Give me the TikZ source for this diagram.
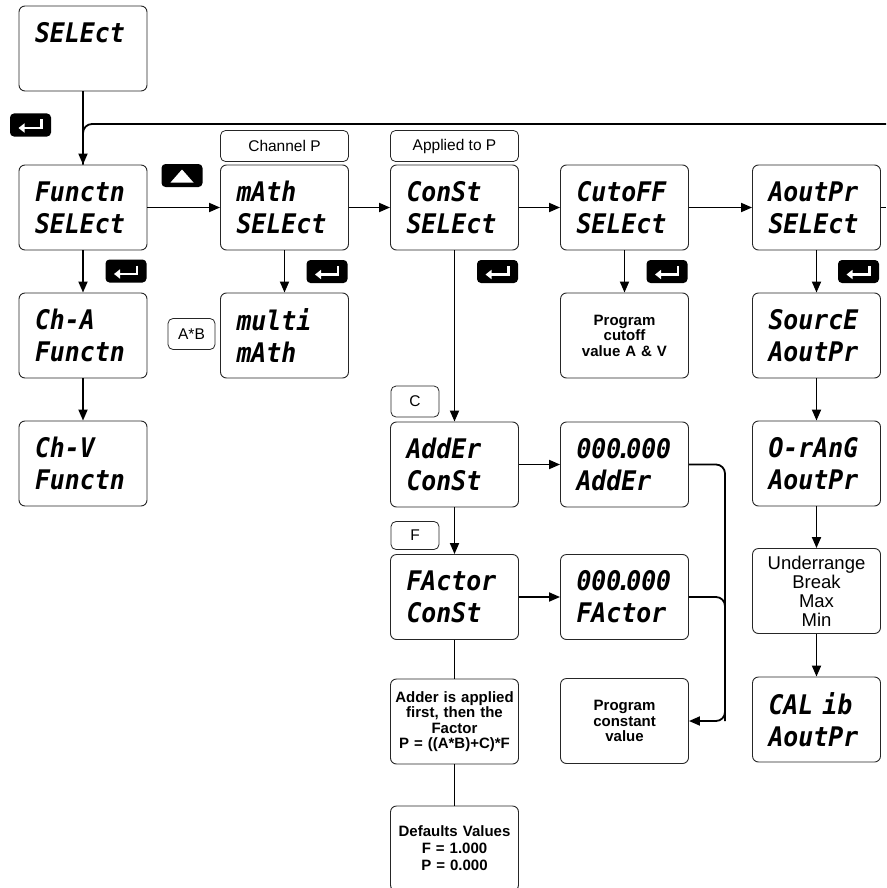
\documentclass[tikz,border=0pt]{standalone}
\usepackage{fontspec}
\setmainfont{Liberation Sans}
\newfontfamily\dispfont[FakeStretch=0.92]{DejaVu Sans Mono}
\usetikzlibrary{arrows.meta}
\tikzset{
  box/.style={draw=black!85, line width=0.9pt, rounded corners=6pt, minimum width=128pt, minimum height=85pt, inner sep=0pt, align=center},
  disp/.style={box, text width=96pt, align=left, font={\dispfont\bfseries\itshape\fontsize{27}{32}\selectfont}},
  note/.style={box, text width=126pt, font={\bfseries\fontsize{15}{15.5}\selectfont}},
  tag/.style={draw=black!85, line width=0.8pt, rounded corners=5pt, minimum height=31pt, inner sep=0pt, font={\fontsize{15.5}{18}\selectfont}},
  key/.style={fill=black, rounded corners=4pt, minimum width=41pt, minimum height=23pt, inner sep=0pt},
  arr/.style={line width=1.8pt, -{Triangle[length=11pt,width=9pt]}},
  link/.style={line width=1.8pt},
  thinlink/.style={line width=0.8pt},
}
\newcommand\retkey[2]{%
  \node[key] (#1) at (#2) {};
  \draw[white, line width=2.4pt, -{Triangle[length=6pt,width=9pt]}]
    ([shift={(11,-5.5)}]#1.center) -- ([shift={(11,3)}]#1.center) -- ([shift={(-12,3)}]#1.center);}
\begin{document}
\begin{tikzpicture}[x=1pt,y=-1pt]
\useasboundingbox (0,0) rectangle (886,888);
% display boxes
\node[disp] (select) at (83,48.5) {SELEct\\\mbox{}};
\node[disp] (functn) at (83,207.5) {Functn\\SELEct};
\node[disp] (cha) at (83,335.5) {Ch-A\\Functn};
\node[disp] (chv) at (83,463.5) {Ch-V\\Functn};
\node[disp] (math) at (284.5,207.5) {mAth\\SELEct};
\node[disp] (multi) at (284.5,335.5) {multi\\mAth};
\node[disp] (const) at (454.5,207.5) {ConSt\\SELEct};
\node[disp] (cutoff) at (624.5,207.5) {CutoFF\\SELEct};
\node[disp] (aout) at (816.5,207.5) {AoutPr\\SELEct};
\node[note] (pcut) at (624.5,335.5) {Program\\cutoff\\value A \& V};
\node[disp] (source) at (816.5,335.5) {SourcE\\AoutPr};
\node[disp] (orang) at (816.5,463.5) {O-rAnG\\AoutPr};
\node[box, font={\fontsize{18.5}{19}\selectfont}] (under) at (816.5,591) {Underrange\\Break\\Max\\Min};
\node[disp] (calib) at (816.5,719.5) {CAL ib\\AoutPr};
\node[disp] (adder) at (454.5,464.5) {AddEr\\ConSt};
\node[disp] (addv) at (624.5,464.5) {000{\kern-5pt}.{\kern-5pt}000\\AddEr};
\node[disp] (factor) at (454.5,597) {FActor\\ConSt};
\node[disp] (facv) at (624.5,597) {000{\kern-5pt}.{\kern-5pt}000\\FActor};
\node[note] (adnote) at (454.5,721.5) {Adder is applied\\first, then the\\Factor\\P = ((A*B)+C)*F};
\node[note] (pconst) at (624.5,721) {Program\\constant\\value};
\node[note, font={\bfseries\fontsize{15}{17}\selectfont}] (defaults) at (454.5,848.5) {Defaults Values\\F = 1.000\\P = 0.000};
% tags
\node[tag, minimum width=128pt] (chP) at (284.5,146) {Channel P};
\node[tag, minimum width=128pt] (appP) at (454.5,146) {Applied to P};
\node[tag, minimum width=47pt] (ab) at (191.5,334) {A*B};
\node[tag, minimum width=48pt] (cC) at (415,401.5) {C};
\node[tag, minimum width=48pt, minimum height=28pt] (fF) at (415,535.5) {F};
% keys
\retkey{r0}{30.5,125}
\retkey{r1}{126,271}
\retkey{r2}{327,271.5}
\retkey{r3}{497.5,271.5}
\retkey{r4}{667,271.5}
\retkey{r5}{858.5,271.5}
\node[key] (up) at (182,175.5) {};
\fill[white] ([shift={(0,-6)}]up.center) -- ([shift={(11.5,7)}]up.center) -- ([shift={(-11.5,7)}]up.center) -- cycle;
% free ends
\coordinate (fbR) at (886,124);
\coordinate (outR) at (886,207.5);
\coordinate (rail) at (725,721);
% connectors
\draw[link, rounded corners=9pt] (fbR) -| (functn.north);
\draw[arr] (select) -- (functn);
\draw[arr] (functn) -- (math);
\draw[arr] (functn) -- (cha);
\draw[arr] (cha) -- (chv);
\draw[arr] (math) -- (multi);
\draw[arr] (math) -- (const);
\draw[arr] (const) -- (adder);
\draw[arr] (const) -- (cutoff);
\draw[arr] (cutoff) -- (pcut);
\draw[arr] (cutoff) -- (aout);
\draw[arr] (aout) -- (source);
\draw[link] (aout) -- (outR);
\draw[arr] (source) -- (orang);
\draw[arr] (orang) -- (under);
\draw[arr] (under) -- (calib);
\draw[arr] (adder) -- (addv);
\draw[arr] (adder) -- (factor);
\draw[arr] (factor) -- (facv);
\draw[thinlink] (factor) -- (adnote);
\draw[thinlink] (adnote) -- (defaults);
\draw[link, rounded corners=9pt] (facv.east) -| (rail);
\draw[arr, rounded corners=9pt] (addv.east) -| (rail) -- (pconst.east);
\end{tikzpicture}
\end{document}
